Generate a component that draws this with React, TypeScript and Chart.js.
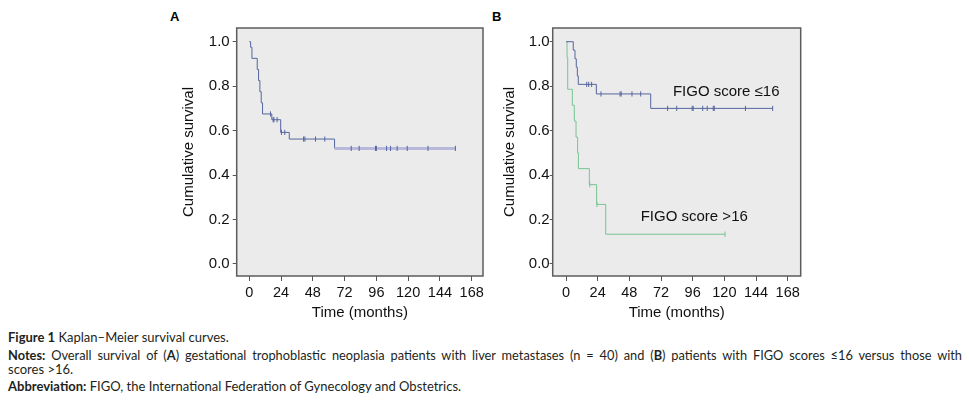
import React, { useEffect, useRef } from "react";
import { Chart, registerables } from "chart.js";

Chart.register(...registerables);

// ---------- data ----------
const xTickValues = [0, 24, 48, 72, 96, 120, 144, 168];
const yTickValues = [0, 0.2, 0.4, 0.6, 0.8, 1.0];

// Panel A: overall survival (event times in months, survival after each step)
const timesA = [0, 1, 2, 6, 7, 8, 9, 10, 17, 23.7, 30.2, 64.4];
const survA = [1.0, 0.975, 0.925, 0.875, 0.825, 0.775, 0.725, 0.675, 0.649, 0.592, 0.562, 0.52];
const censA = [16, 18, 18.6, 21, 24.3, 26.8, 41, 42, 50, 57, 77, 83, 95.3, 96, 103.7, 106.7, 111.7, 119.3, 135, 155.7];

// Panel B: FIGO score <=16
const timesB1 = [0, 5.5, 6.8, 7.8, 8.6, 9.3, 23, 64.2];
const survB1 = [1.0, 0.962, 0.923, 0.885, 0.846, 0.808, 0.765, 0.7];
const censB1 = [15.7, 17.2, 19.4, 26.5, 41, 41.8, 50, 56.6, 77, 83.9, 95.6, 96.4, 103.6, 107, 111.6, 112.4, 136, 156.6];

// Panel B: FIGO score >16
const timesB2 = [0, 0.8, 1.3, 4.8, 6.3, 7.6, 8.8, 9.4, 17.7, 23.2, 30.1];
const survB2 = [1.0, 0.929, 0.786, 0.714, 0.643, 0.571, 0.5, 0.429, 0.357, 0.268, 0.134];
const censB2 = [18, 23.5, 120.5];

const labelsB = [
  { text: "FIGO score ≤16", t: 81, s: 0.775 },
  { text: "FIGO score >16", t: 56.6, s: 0.213 },
];

// ---------- helpers ----------
const BLUE = "#55669f";
const GREEN = "#78c394";
const BAND = "#b8b8da";
const FONT = "'Liberation Sans', Arial, sans-serif";

function stepAt(times: number[], surv: number[], t: number) {
  let v = surv[0];
  for (let i = 0; i < times.length; i++) if (times[i] <= t) v = surv[i];
  return v;
}

function curve(times: number[], surv: number[], cens: number[]) {
  const pts = times.map((t, i) => ({ x: t, y: surv[i] }));
  const end = Math.max(...cens);
  if (end > times[times.length - 1]) pts.push({ x: end, y: surv[surv.length - 1] });
  return pts;
}

function censPoints(times: number[], surv: number[], cens: number[]) {
  return cens.map((t) => ({ x: t, y: stepAt(times, surv, t) }));
}

const plotFrame = {
  id: "plotFrame",
  beforeDraw(chart: any) {
    const { ctx, chartArea } = chart;
    const { left, top, right, bottom } = chartArea;
    ctx.save();
    ctx.fillStyle = "#ebebeb";
    ctx.fillRect(left, top, right - left, bottom - top);
    ctx.restore();
  },
  afterDraw(chart: any) {
    const { ctx, chartArea } = chart;
    const { left, top, right, bottom } = chartArea;
    ctx.save();
    ctx.strokeStyle = "#5c5c5c";
    ctx.lineWidth = 1.5;
    ctx.strokeRect(left, top, right - left, bottom - top);
    ctx.restore();
  },
};

const curveText = {
  id: "curveText",
  afterDatasetsDraw(chart: any, _args: any, opts: any) {
    const items = opts && opts.items;
    if (!items) return;
    const { ctx, scales } = chart;
    ctx.save();
    ctx.font = `15px ${FONT}`;
    ctx.fillStyle = "#111";
    ctx.textAlign = "left";
    ctx.textBaseline = "middle";
    for (const it of items) {
      ctx.fillText(it.text, scales.x.getPixelForValue(it.t), scales.y.getPixelForValue(it.s));
    }
    ctx.restore();
  },
};

interface PanelCfg {
  datasets: any[];
  xMin: number;
  xMax: number;
  yAxisWidth: number;
  rightPad: number;
  yTickLen: number;
  yTickPad: number;
  yTitlePad: number;
  labels?: any[];
}

function makeConfig(p: PanelCfg): any {
  return {
    type: "line",
    data: { datasets: p.datasets },
    plugins: [plotFrame, curveText],
    options: {
      animation: false,
      responsive: false,
      events: [],
      layout: { padding: { left: 0, right: p.rightPad, top: 28, bottom: 0 } },
      plugins: {
        legend: { display: false },
        tooltip: { enabled: false },
        curveText: { items: p.labels || null },
      },
      scales: {
        x: {
          type: "linear",
          min: p.xMin,
          max: p.xMax,
          afterBuildTicks: (s: any) => {
            s.ticks = xTickValues.map((v) => ({ value: v }));
          },
          afterFit: (s: any) => {
            s.height = 49;
          },
          grid: { display: true, drawOnChartArea: false, drawTicks: true, tickLength: 5, tickColor: "#555", tickWidth: 1 },
          border: { display: false },
          ticks: {
            color: "#111",
            font: { family: FONT, size: 14.5 },
            padding: 3.4,
            maxRotation: 0,
            autoSkip: false,
            callback: (v: any) => String(v),
          },
          title: {
            display: true,
            text: "Time (months)",
            color: "#111",
            font: { family: FONT, size: 15 },
            padding: { top: 0, bottom: 3 },
          },
        },
        y: {
          type: "linear",
          min: -0.054,
          max: 1.0616,
          afterBuildTicks: (s: any) => {
            s.ticks = yTickValues.map((v) => ({ value: v }));
          },
          afterFit: (s: any) => {
            s.width = p.yAxisWidth;
          },
          grid: { display: true, drawOnChartArea: false, drawTicks: true, tickLength: p.yTickLen, tickColor: "#555", tickWidth: 1 },
          border: { display: false },
          ticks: {
            color: "#111",
            font: { family: FONT, size: 15 },
            padding: p.yTickPad,
            autoSkip: false,
            callback: (v: any) => Number(v).toFixed(1),
          },
          title: {
            display: true,
            text: "Cumulative survival",
            color: "#111",
            font: { family: FONT, size: 15 },
            padding: { top: p.yTitlePad, bottom: 0 },
          },
        },
      },
    },
  };
}

function stepDataset(data: any[], color: string, width: number) {
  return {
    data,
    stepped: true,
    borderColor: color,
    borderWidth: width,
    pointRadius: 0,
    fill: false,
    tension: 0,
  };
}

function censorDataset(data: any[], color: string) {
  return {
    data,
    showLine: false,
    pointStyle: "line",
    pointRotation: 90,
    pointRadius: 2.6,
    pointBorderWidth: 1,
    pointBorderColor: color,
    borderColor: color,
    backgroundColor: color,
  };
}

function Panel(props: { cfg: () => any; left: number }) {
  const ref = useRef<HTMLCanvasElement | null>(null);
  useEffect(() => {
    if (!ref.current) return;
    const chart = new Chart(ref.current, props.cfg());
    return () => chart.destroy();
  }, []);
  return (
    <canvas
      ref={ref}
      width={320}
      height={325}
      style={{ position: "absolute", left: props.left, top: 0, width: 320, height: 325 }}
    />
  );
}

const cfgA = () => {
  const main = curve(timesA, survA, censA);
  const lastT = timesA[timesA.length - 1];
  const band = main.filter((pt) => pt.x >= lastT);
  return makeConfig({
    datasets: [
      censorDataset(censPoints(timesA, survA, censA), BLUE),
      stepDataset(band, BAND, 3),
      stepDataset(main, BLUE, 1),
    ],
    xMin: -9.52,
    xMax: 176.54,
    yAxisWidth: 66.7,
    rightPad: 7,
    yTickLen: 4,
    yTickPad: 3,
    yTitlePad: 9.7,
  });
};

const cfgB = () =>
  makeConfig({
    datasets: [
      censorDataset(censPoints(timesB1, survB1, censB1), BLUE),
      censorDataset(censPoints(timesB2, survB2, censB2), GREEN),
      stepDataset(curve(timesB1, survB1, censB1), BLUE, 1),
      stepDataset(curve(timesB2, survB2, censB2), GREEN, 1),
    ],
    xMin: -10.08,
    xMax: 177.86,
    yAxisWidth: 62.7,
    rightPad: 9.3,
    yTickLen: 3,
    yTickPad: 0,
    yTitlePad: 11,
    labels: labelsB,
  });

const capFont = "Lato, 'Liberation Sans', Arial, sans-serif";
const capLine: React.CSSProperties = {
  position: "absolute",
  left: 8,
  width: 954,
  fontFamily: capFont,
  fontSize: 13,
  lineHeight: "16px",
  color: "#231f20",
  whiteSpace: "nowrap",
};

export default function App() {
  return (
    <div style={{ position: "fixed", left: 0, top: 0, width: 969, height: 414, background: "#fff", overflow: "hidden" }}>
      <div style={{ position: "absolute", left: 170, top: 9.7, fontFamily: FONT, fontWeight: "bold", fontSize: 13, lineHeight: "13px" }}>A</div>
      <div style={{ position: "absolute", left: 492, top: 9.7, fontFamily: FONT, fontWeight: "bold", fontSize: 13, lineHeight: "13px" }}>B</div>
      <Panel cfg={cfgA} left={170} />
      <Panel cfg={cfgB} left={490} />
      <div style={{ ...capLine, top: 329 }}>
        <b>Figure 1</b> Kaplan–Meier survival curves.
      </div>
      <div style={{ ...capLine, top: 347, fontSize: 12.8, textAlign: "justify", textAlignLast: "justify" as any }}>
        <b>Notes:</b> Overall survival of (<b>A</b>) gestational trophoblastic neoplasia patients with liver metastases (n = 40) and (<b>B</b>) patients with FIGO scores ≤16 versus those with
      </div>
      <div style={{ ...capLine, top: 361 }}>scores &gt;16.</div>
      <div style={{ ...capLine, top: 378 }}>
        <b>Abbreviation:</b> FIGO, the International Federation of Gynecology and Obstetrics.
      </div>
    </div>
  );
}
